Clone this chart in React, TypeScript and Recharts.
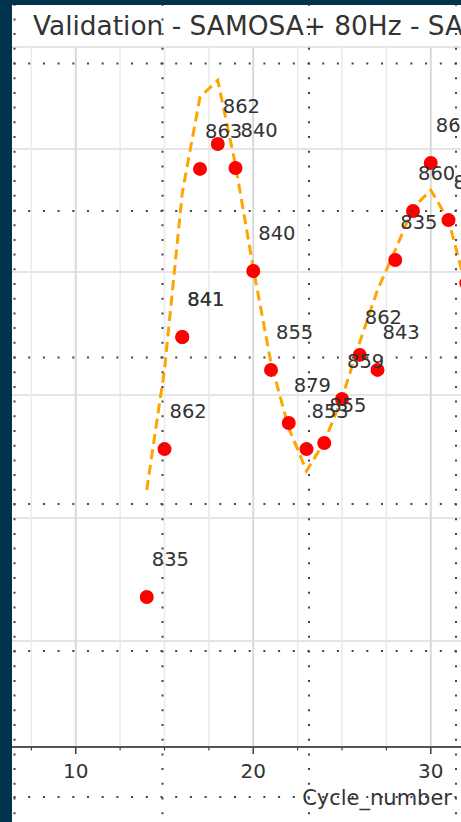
import React from 'react';
import { ComposedChart, XAxis, YAxis, CartesianGrid, Line, Scatter, ReferenceLine } from 'recharts';

const cycles = [14, 15, 16, 16, 17, 18, 19, 20, 21, 22, 23, 24, 25, 26, 27, 28, 29, 30, 31, 32];
const observed = [1.179, 1.78, 2.236, 2.236, 2.919, 3.02, 2.923, 2.504, 2.102, 1.886, 1.78, 1.805, 1.984, 2.163, 2.102, 2.549, 2.748, 2.943, 2.711, 2.455];
const model = [1.614, 2.102, 2.821, 2.821, 3.211, 3.28, 2.935, 2.516, 2.13, 1.866, 1.691, 1.809, 1.988, 2.215, 2.427, 2.589, 2.76, 2.833, 2.711, 2.437];
const pointLabels = ['835', '862', '841', '841', '863', '862', '840', '840', '855', '879', '853', '855', '859', '862', '843', '835', '860', '862', '855', '848'];

const xTicks = [5, 7.5, 10, 12.5, 15, 17.5, 20, 22.5, 25, 27.5, 30, 32.5, 35];
const majorXTicks = [10, 20, 30];
const yTicks = [1, 1.5, 2, 2.5, 3];
const xDomain = [5, 35];
const yDomain = [0.5691, 3.4146];

const title = 'Validation - SAMOSA+ 80Hz - SAR';
const xLabel = 'Cycle_number';

const data = cycles.map((c, i) => ({ cycle: c, obs: observed[i], model: model[i], label: pointLabels[i] }));

const FONT = '"DejaVu Sans", Verdana, sans-serif';

const AxisTick = (props: any) => {
  const { x, y, payload } = props;
  const major = payload.value % 10 === 0;
  return (
    <g>
      <line x1={x} x2={x} y1={y} y2={y + (major ? 7 : 3.5)} stroke="#444" strokeWidth={major ? 1.6 : 1.2} />
      {major && (
        <text x={x} y={y + 31} textAnchor="middle" fontSize={20} fill="#333" fontFamily={FONT}>
          {payload.value}
        </text>
      )}
    </g>
  );
};

const RedDot = (props: any) => {
  const { cx, cy } = props;
  if (cx == null || cy == null) return <g />;
  return <circle cx={cx} cy={cy} r={7} fill="#ff0000" />;
};

const PointLabel = (props: any) => {
  const { cx, cy, payload } = props;
  if (cx == null || cy == null) return <g />;
  return (
    <text x={cx + 5} y={cy - 31} fontSize={19.5} fill="#333" fontFamily={FONT}>
      {payload.label}
    </text>
  );
};

const dotXs = [14.5, 162.5, 309, 456];
const dotYs = [63.5, 211, 357.5, 504, 651, 797];

export default function App() {
  return (
    <div style={{ position: 'fixed', left: 0, top: 0, width: 461, height: 822, overflow: 'hidden', background: '#fff' }}>
      <div style={{ position: 'absolute', left: -12.75, top: 0 }}>
        <ComposedChart width={532.5} height={822} data={data} margin={{ top: 47, right: 0, bottom: 0, left: 0 }}>
          <CartesianGrid vertical={false} stroke="#dddddd" strokeWidth={1.6} />
          <CartesianGrid horizontal={false} stroke="#eaeaea" strokeWidth={1.5} />
          {majorXTicks.map((t) => (
            <ReferenceLine key={t} x={t} stroke="#d8d8d8" strokeWidth={1.8} />
          ))}
          <XAxis
            dataKey="cycle"
            type="number"
            domain={xDomain}
            ticks={xTicks}
            interval={0}
            tickSize={0}
            tickMargin={0}
            tickLine={false}
            tick={<AxisTick />}
            height={75}
            axisLine={{ stroke: '#555', strokeWidth: 2.2 }}
            allowDataOverflow
          />
          <XAxis
            xAxisId="top"
            orientation="top"
            type="number"
            domain={xDomain}
            height={0}
            tick={false}
            tickLine={false}
            axisLine={{ stroke: '#555', strokeWidth: 2.2 }}
            allowDataOverflow
          />
          <YAxis type="number" domain={yDomain} ticks={yTicks} hide allowDataOverflow width={0} />
          <Scatter dataKey="obs" shape={(p: any) => <RedDot {...p} />} isAnimationActive={false} />
          <Line
            dataKey="model"
            type="linear"
            stroke="#ffa500"
            strokeWidth={3}
            strokeDasharray="10 5.5"
            dot={false}
            activeDot={false}
            isAnimationActive={false}
          />
          <Scatter dataKey="obs" shape={(p: any) => <PointLabel {...p} />} isAnimationActive={false} />
        </ComposedChart>
      </div>
      <svg width={461} height={822} style={{ position: 'absolute', left: 0, top: 0, pointerEvents: 'none' }}>
        <text x={33} y={35} fontSize={26.4} fill="#333" fontFamily={FONT}>{title}</text>
        <text x={452} y={805} fontSize={21} fill="#333" textAnchor="end" fontFamily={FONT}>{xLabel}</text>
        {dotXs.map((x) => (
          <line key={'v' + x} x1={x} x2={x} y1={63.5 - 1 - 14.7 * 6} y2={830} stroke="#444" strokeWidth={2} strokeDasharray="2 12.7" />
        ))}
        {dotYs.map((y) => (
          <line key={'h' + y} x1={14.5 - 1 - 14.7} x2={470} y1={y} y2={y} stroke="#444" strokeWidth={2} strokeDasharray="2 12.7" />
        ))}
      </svg>
      <div style={{ position: 'absolute', left: 0, top: 0, width: 12, height: 822, background: '#00334e' }} />
      <div style={{ position: 'absolute', left: 12, top: 0, width: 449, height: 5, background: '#00334e' }} />
    </div>
  );
}
